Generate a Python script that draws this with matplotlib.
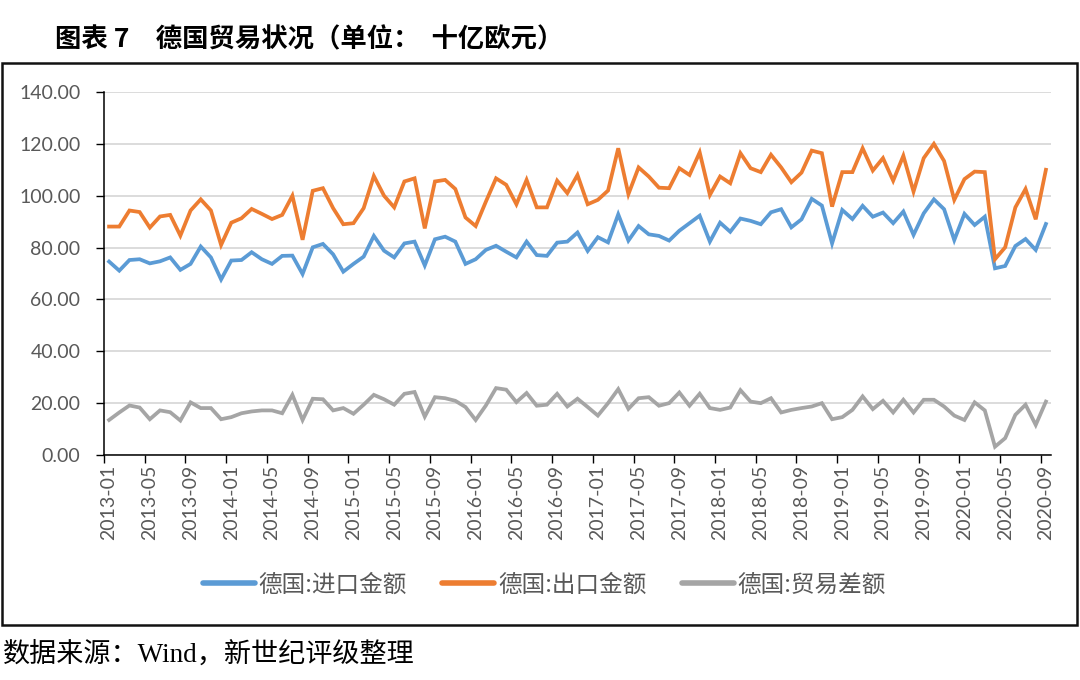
import matplotlib
matplotlib.use("Agg")
import matplotlib.pyplot as plt
import matplotlib.patches as patches
import numpy as np
import pandas as pd

plt.rcParams['font.family'] = ['Lato', 'Noto Sans CJK SC', 'DejaVu Sans']

months = list(pd.date_range('2013-01', '2020-09', freq='MS').strftime('%Y-%m'))

exports = [88.1, 88.1, 94.3, 93.7, 87.7, 92.0, 92.6, 84.6, 94.3, 98.6, 94.3, 81.0,
           89.6, 91.3, 94.9, 93.0, 91.0, 92.6, 100.0, 83.0, 101.9, 102.9, 95.2, 89.0,
           89.4, 95.2, 107.6, 100.0, 95.5, 105.5, 106.7, 87.4,
           105.5, 106.1, 102.6, 91.6, 88.3, 97.7, 106.7, 104.2, 96.7, 106.1, 95.5, 95.5,
           105.8, 101.0, 108.0, 96.7, 98.4, 102.0, 118.3, 100.6, 110.9, 107.4, 103.1, 102.9,
           110.6, 108.0, 116.7, 100.3, 107.4, 104.8, 116.4,
           110.6, 109.1, 115.8, 110.9, 105.2, 108.9, 117.4, 116.4, 95.8, 109.1, 109.1, 118.3,
           109.7, 114.5, 105.8, 115.4, 101.6, 114.5, 120.0, 113.4, 98.4, 106.4, 109.3, 109.1,
           75.5, 80.1, 95.5, 102.6, 90.9, 110.0]

imports = [74.6, 71.1, 75.2, 75.5, 73.9, 74.7, 76.2, 71.4, 73.7, 80.4, 76.2, 67.7,
           75.0, 75.2, 78.2, 75.5, 73.7, 76.8, 76.9, 69.8, 80.1, 81.4, 77.4, 70.7,
           73.7, 76.5, 84.5, 78.8, 76.2, 81.6, 82.3, 73.1,
           83.2, 84.2, 82.3, 73.7, 75.5, 79.1, 80.7, 78.4, 76.2, 82.3, 77.1, 76.8,
           81.9, 82.3, 85.8, 78.7, 84.0, 82.0, 92.8, 82.7, 88.3, 85.1, 84.5, 82.7,
           86.5, 89.4, 92.3, 82.3, 89.6, 86.1, 91.2,
           90.3, 89.0, 93.6, 94.8, 87.8, 90.9, 98.8, 96.2, 81.6, 94.5, 91.0, 96.1,
           91.9, 93.5, 89.4, 93.9, 84.9, 93.2, 98.6, 94.8, 82.9, 93.0, 88.7, 91.9,
           72.0, 72.9, 80.6, 83.3, 79.1, 89.1]

balance = [13.5, 16.4, 19.1, 18.3, 13.8, 17.2, 16.5, 13.3, 20.3, 18.1, 18.1, 13.8,
           14.6, 16.1, 16.8, 17.2, 17.2, 16.1, 23.2, 13.5, 21.7, 21.5, 17.2, 18.1,
           15.9, 19.4, 23.2, 21.5, 19.4, 23.6, 24.3, 14.8,
           22.3, 21.9, 20.9, 18.5, 13.5, 19.1, 25.8, 25.2, 20.4, 23.9, 19.0, 19.4,
           23.6, 18.7, 21.7, 18.5, 15.2, 20.0, 25.4, 17.8, 21.9, 22.3, 19.0, 20.0,
           24.1, 19.0, 23.6, 18.1, 17.4, 18.3, 25.0,
           20.6, 20.0, 21.9, 16.4, 17.4, 18.1, 18.7, 20.0, 13.8, 14.6, 17.4, 22.6,
           17.7, 20.9, 16.4, 21.3, 16.4, 21.3, 21.3, 18.7, 15.2, 13.5, 20.3, 17.2,
           3.2, 6.5, 15.5, 19.4, 11.6, 20.6]

names = ['德国:进口金额', '德国:出口金额', '德国:贸易差额']
colors = ['#5B9BD5', '#ED7D31', '#A5A5A5']

fig = plt.figure(figsize=(10.8, 6.8), dpi=100)
ax = fig.add_axes([104/1080, 1-455/680, 947/1080, 363/680])

x = np.arange(len(months))
for vals, name, c in zip([imports, exports, balance], names, colors):
    ax.plot(x, vals, color=c, lw=2.7, label=name, solid_joinstyle='miter')

ax.set_xlim(-0.5, len(months) - 0.5)
ax.set_ylim(0, 140)
ax.set_yticks(np.arange(0, 141, 20))
ax.set_yticklabels(['%.2f' % v for v in np.arange(0, 141, 20)])
ax.grid(axis='y', color='#D9D9D9', lw=1.3)
ax.set_axisbelow(True)

# tick marks on category boundaries, labels on category centres
ax.set_xticks(np.arange(0, len(months), 4) - 0.5)
ax.set_xticklabels([])
ax.set_xticks(np.arange(0, len(months), 4), minor=True)
ax.set_xticklabels(months[::4], minor=True, rotation=90)
ax.tick_params(axis='x', which='major', length=6, width=1, color='black', direction='out')
ax.tick_params(axis='x', which='minor', length=0, pad=7, labelsize=14, labelcolor='#595959')
ax.tick_params(axis='y', length=6, width=1, direction='out', pad=11,
               labelsize=14, labelcolor='#595959')

for s in ['top', 'right']:
    ax.spines[s].set_visible(False)
for s in ['left', 'bottom']:
    ax.spines[s].set_color('black')
    ax.spines[s].set_linewidth(1.1)

leg = fig.legend(loc='center', bbox_to_anchor=(0.504, 1-585/680), ncol=3, frameon=False,
                 handlelength=2.2, handletextpad=0.15, columnspacing=1.5,
                 prop={'family': ['Noto Sans CJK SC'], 'size': 17})
for t in leg.get_texts():
    t.set_color('#595959')
for h in leg.get_lines():
    h.set_linewidth(4)
    h.set_solid_capstyle('round')

fig.patches.append(patches.Rectangle((2/1080, 1-625/680), 1075/1080, 562/680,
                                     transform=fig.transFigure, fill=False,
                                     edgecolor='#111111', lw=1.8))

fig.text(55/1080, 1-40/680, '图表 7　德国贸易状况（单位：  十亿欧元）', ha='left', va='center',
         fontsize=19, fontweight='bold', family=['Noto Sans CJK SC'])
fig.text(3/1080, 1-655/680, '数据来源：Wind，新世纪评级整理', ha='left', va='center',
         fontsize=19.5, family=['Liberation Serif', 'Noto Sans CJK SC'])

fig.savefig('out.png', dpi=100)
